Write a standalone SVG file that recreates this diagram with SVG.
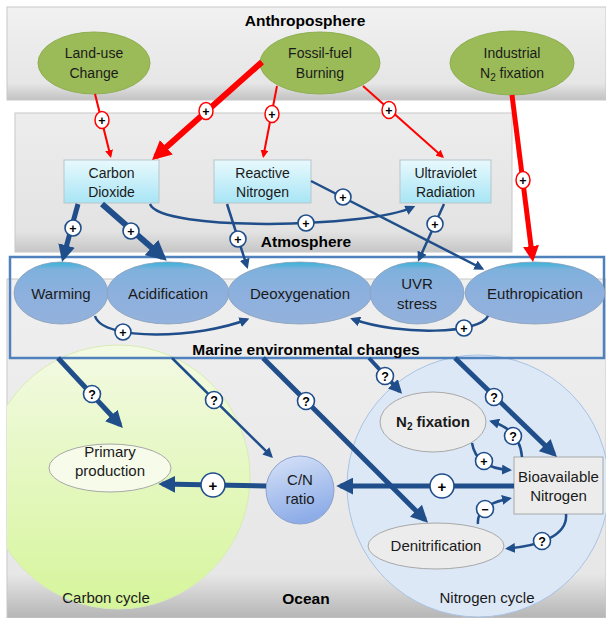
<svg xmlns="http://www.w3.org/2000/svg" width="606" height="618" viewBox="0 0 606 618">
<defs>
<style>
text{font-family:"Liberation Sans",Arial,sans-serif;fill:#1a1a1a;text-anchor:middle}
.t14{font-size:14px}
.t15{font-size:15px}
.ttl{font-size:15.5px;font-weight:bold;fill:#000}
.red{stroke:#ff0000;fill:none}
.blue{stroke:#1f4e8a;fill:none}
.rc{fill:#fff;stroke:#ff0000;stroke-width:1.5}
.bc{fill:#fff;stroke:#1f4e8a;stroke-width:1.6}
.sym{font-size:12.5px;font-weight:bold;fill:#000}
.symL{font-size:15px;font-weight:bold;fill:#000}
.anth{fill:#9bbb59;stroke:#8fae52;stroke-width:1}
.box{fill:url(#boxG);stroke:#b7c6cb;stroke-width:1}
.mar{fill:url(#marG);stroke:#8d9fb8;stroke-width:0.8}
.gry{fill:#ececec;stroke:#a8a8a8;stroke-width:1}
</style>
<linearGradient id="anG" x1="0" y1="0" x2="0" y2="1">
<stop offset="0" stop-color="#f1f1f1"/><stop offset="0.82" stop-color="#e6e6e6"/><stop offset="1" stop-color="#c2c2c2"/>
</linearGradient>
<linearGradient id="atG" x1="0" y1="0" x2="0" y2="1">
<stop offset="0" stop-color="#ededed"/><stop offset="0.85" stop-color="#e3e3e3"/><stop offset="1" stop-color="#c6c6c6"/>
</linearGradient>
<linearGradient id="ocG" x1="0" y1="0" x2="0" y2="1">
<stop offset="0" stop-color="#efefef"/><stop offset="0.87" stop-color="#e7e7e7"/><stop offset="1" stop-color="#b5b5b5"/>
</linearGradient>
<linearGradient id="boxG" x1="0" y1="0" x2="0" y2="1">
<stop offset="0" stop-color="#e8f9fd"/><stop offset="1" stop-color="#a8e5f5"/>
</linearGradient>
<linearGradient id="marG" x1="0" y1="0" x2="0" y2="1">
<stop offset="0" stop-color="#35b3d9"/><stop offset="0.12" stop-color="#7fb1dd"/><stop offset="0.5" stop-color="#8db0de"/><stop offset="1" stop-color="#93b2dc"/>
</linearGradient>
<linearGradient id="grG" x1="0" y1="0" x2="0" y2="1">
<stop offset="0" stop-color="#f3fae4"/><stop offset="1" stop-color="#d6f59b"/>
</linearGradient>
<linearGradient id="cnG" x1="0" y1="0" x2="0.3" y2="1">
<stop offset="0" stop-color="#d8e3f8"/><stop offset="1" stop-color="#8eade8"/>
</linearGradient>
<clipPath id="ocClip"><rect x="7" y="279" width="599" height="339"/></clipPath>
<marker id="rs" viewBox="0 0 4 4" refX="3" refY="2" markerWidth="4" markerHeight="4" orient="auto" markerUnits="strokeWidth"><path d="M0,0 L4,2 L0,4 z" fill="#ff0000"/></marker>
<marker id="rb" viewBox="0 0 4 4" refX="3" refY="2" markerWidth="3.2" markerHeight="3.2" orient="auto" markerUnits="strokeWidth"><path d="M0,0 L4,2 L0,4 z" fill="#ff0000"/></marker>
<marker id="bs" viewBox="0 0 4 4" refX="3" refY="2" markerWidth="4" markerHeight="4" orient="auto" markerUnits="strokeWidth"><path d="M0,0 L4,2 L0,4 z" fill="#1f4e8a"/></marker>
<marker id="bb" viewBox="0 0 4 4" refX="3" refY="2" markerWidth="3.4" markerHeight="3.4" orient="auto" markerUnits="strokeWidth"><path d="M0,0 L4,2 L0,4 z" fill="#1f4e8a"/></marker>
</defs>

<g id="backgrounds">
<rect x="7" y="7" width="599" height="93" fill="url(#anG)" stroke="#c8c8c8" stroke-width="1"/>
<rect x="15" y="113" width="497" height="139" fill="url(#atG)" stroke="#c8c8c8" stroke-width="1"/>
<rect x="7" y="279" width="599" height="339" fill="url(#ocG)" stroke="#c8c8c8" stroke-width="1"/>
<g clip-path="url(#ocClip)">
<circle id="carbon-cycle" cx="118" cy="477" r="132" fill="url(#grG)" stroke="#d7ecb4" stroke-width="1"/>
<circle id="nitrogen-cycle" cx="478" cy="486" r="131" fill="#dde8f7" stroke="#a9c3e4" stroke-width="1"/>
</g>
<rect x="10" y="257" width="594" height="101" fill="none" stroke="#4f81bd" stroke-width="2.5"/>
</g>

<g id="titles">
<text class="ttl" x="305" y="25.5">Anthroposphere</text>
<text class="ttl" x="306" y="246.5">Atmosphere</text>
<text class="ttl" x="306" y="354.5">Marine environmental changes</text>
<text class="ttl" x="306" y="603.5">Ocean</text>
<text class="t15" x="106" y="603">Carbon cycle</text>
<text class="t15" x="487" y="603">Nitrogen cycle</text>
</g>

<g id="land-use"><ellipse class="anth" cx="94" cy="63" rx="56" ry="31"/><text class="t14" x="94" y="58">Land-use</text><text class="t14" x="94" y="78">Change</text></g>
<g id="fossil-fuel"><ellipse class="anth" cx="320" cy="63" rx="60" ry="31"/><text class="t14" x="320" y="58">Fossil-fuel</text><text class="t14" x="320" y="78">Burning</text></g>
<g id="industrial"><ellipse class="anth" cx="512" cy="63" rx="62" ry="32"/><text class="t14" x="512" y="58">Industrial</text><text class="t14" x="512" y="78">N<tspan font-size="10" dy="3">2</tspan><tspan dy="-3"> fixation</tspan></text></g>

<g id="carbon-dioxide"><rect class="box" x="64" y="160" width="95" height="43"/><text class="t14" x="111.5" y="178">Carbon</text><text class="t14" x="111.5" y="197">Dioxide</text></g>
<g id="reactive-nitrogen"><rect class="box" x="214" y="160" width="97" height="43"/><text class="t14" x="262.5" y="178">Reactive</text><text class="t14" x="262.5" y="197">Nitrogen</text></g>
<g id="ultraviolet"><rect class="box" x="400" y="160" width="91" height="43"/><text class="t14" x="445.5" y="178">Ultraviolet</text><text class="t14" x="445.5" y="197">Radiation</text></g>

<g id="warming"><ellipse class="mar" cx="61" cy="293" rx="47" ry="31"/><text class="t15" x="61" y="298.5">Warming</text></g>
<g id="acidification"><ellipse class="mar" cx="168" cy="293" rx="61" ry="31"/><text class="t15" x="168" y="298.5">Acidification</text></g>
<g id="deoxygenation"><ellipse class="mar" cx="300" cy="293" rx="72" ry="31"/><text class="t15" x="300" y="298.5">Deoxygenation</text></g>
<g id="uvr-stress"><ellipse class="mar" cx="417" cy="293" rx="47" ry="31"/><text class="t15" x="417" y="288.5">UVR</text><text class="t15" x="417" y="308.5">stress</text></g>
<g id="euthropication"><ellipse class="mar" cx="535" cy="293" rx="70" ry="31"/><text class="t15" x="535" y="298.5">Euthropication</text></g>

<g id="primary-production"><ellipse cx="110" cy="468" rx="61" ry="24" fill="#f6fbea" stroke="#a8a8a8" stroke-width="1"/><text class="t15" x="110" y="457">Primary</text><text class="t15" x="110" y="476">production</text></g>
<g id="cn-ratio"><circle cx="300" cy="490" r="34" fill="url(#cnG)" stroke="#8ea3cb" stroke-width="1"/><text class="t15" x="300" y="485">C/N</text><text class="t15" x="300" y="504">ratio</text></g>
<g id="n2-fixation"><ellipse class="gry" cx="433" cy="422" rx="53" ry="30"/><text class="t15" x="433" y="427" font-weight="bold" fill="#000">N<tspan font-size="10" dy="3">2</tspan><tspan dy="-3"> fixation</tspan></text></g>
<g id="bioavailable-nitrogen"><rect class="gry" x="514" y="457" width="89" height="57"/><text class="t15" x="558.5" y="482">Bioavailable</text><text class="t15" x="558.5" y="501">Nitrogen</text></g>
<g id="denitrification"><ellipse class="gry" cx="436" cy="546" rx="68" ry="23"/><text class="t15" x="436" y="551">Denitrification</text></g>

<g id="connectors">
<path class="red" stroke-width="2" marker-end="url(#rs)" d="M95,94 L110.5,156"/>
<path class="red" stroke-width="6" marker-end="url(#rb)" d="M262,62 L155.6,156.8"/>
<path class="red" stroke-width="2" marker-end="url(#rs)" d="M277,86 L263.4,156"/>
<path class="red" stroke-width="2" marker-end="url(#rs)" d="M363,86 L442.5,156.7"/>
<path class="red" stroke-width="5" marker-end="url(#rb)" d="M512,95 L532.5,258"/>

<path class="blue" stroke-width="5" marker-end="url(#bb)" d="M78,204 L63.2,257.8"/>
<path class="blue" stroke-width="6" marker-end="url(#bb)" d="M102,204 L163,257.5"/>
<path class="blue" stroke-width="2.5" marker-end="url(#bs)" d="M150,204 C160,232 370,228 413,207"/>
<path class="blue" stroke-width="2.5" marker-end="url(#bs)" d="M227,204 L247,266.5"/>
<path class="blue" stroke-width="2.5" marker-end="url(#bs)" d="M311,181 L482,268.5"/>
<path class="blue" stroke-width="2.5" marker-end="url(#bs)" d="M444,204 L419,259.5"/>

<path class="blue" stroke-width="2.5" marker-end="url(#bs)" d="M95,316 C103,342 200,338 247,319.5"/>
<path class="blue" stroke-width="2.5" marker-end="url(#bs)" d="M488,316 C480,334 400,336 352.5,319"/>

<path class="blue" stroke-width="5" marker-end="url(#bb)" d="M58,358 L120,424.8"/>
<path class="blue" stroke-width="2.5" marker-end="url(#bs)" d="M172,358 L271.2,456.2"/>
<path class="blue" stroke-width="5" marker-end="url(#bb)" d="M263,358 L425,519.8"/>
<path class="blue" stroke-width="4" marker-end="url(#bb)" d="M369,358 L399.8,391.3"/>
<path class="blue" stroke-width="5" marker-end="url(#bb)" d="M455,358 L553.9,454"/>

<path class="blue" stroke-width="5" marker-end="url(#bb)" d="M514,486 L340.5,486"/>
<path class="blue" stroke-width="5" marker-end="url(#bb)" d="M266,486 L162.5,484"/>

<path class="blue" stroke-width="2.5" marker-end="url(#bs)" d="M472,443 Q476,468 509.5,470"/>
<path class="blue" stroke-width="2.5" marker-end="url(#bs)" d="M522,457 Q520,430 491.5,421.5"/>
<path class="blue" stroke-width="2.5" marker-end="url(#bs)" d="M478,524 Q476,505 509.5,498.5"/>
<path class="blue" stroke-width="2.5" marker-end="url(#bs)" d="M566,514 C568,535 540,546 507.5,548.5"/>
</g>

<g id="signs">
<ellipse class="rc" cx="102" cy="120" rx="7" ry="8.5"/><text class="sym" x="102" y="124.5">+</text>
<ellipse class="rc" cx="206" cy="111" rx="7" ry="8.5"/><text class="sym" x="206" y="115.5">+</text>
<ellipse class="rc" cx="272" cy="114" rx="7" ry="8.5"/><text class="sym" x="272" y="118.5">+</text>
<ellipse class="rc" cx="389" cy="110" rx="7" ry="8.5"/><text class="sym" x="389" y="114.5">+</text>
<ellipse class="rc" cx="523" cy="180" rx="7" ry="8.5"/><text class="sym" x="523" y="184.5">+</text>

<circle class="bc" cx="73" cy="228" r="8"/><text class="sym" x="73" y="232.5">+</text>
<circle class="bc" cx="131" cy="231" r="8"/><text class="sym" x="131" y="235.5">+</text>
<circle class="bc" cx="306" cy="223" r="8"/><text class="sym" x="306" y="227.5">+</text>
<circle class="bc" cx="238" cy="239" r="8"/><text class="sym" x="238" y="243.5">+</text>
<circle class="bc" cx="343" cy="197" r="8"/><text class="sym" x="343" y="201.5">+</text>
<circle class="bc" cx="435" cy="224" r="8"/><text class="sym" x="435" y="228.5">+</text>
<circle class="bc" cx="123" cy="332" r="8"/><text class="sym" x="123" y="336.5">+</text>
<circle class="bc" cx="464" cy="328" r="8"/><text class="sym" x="464" y="332.5">+</text>

<circle class="bc" cx="92" cy="394" r="8.5"/><text class="sym" x="92" y="398.5">?</text>
<circle class="bc" cx="214" cy="400" r="8.5"/><text class="sym" x="214" y="404.5">?</text>
<circle class="bc" cx="306" cy="401" r="8.5"/><text class="sym" x="306" y="405.5">?</text>
<circle class="bc" cx="385" cy="376" r="8.5"/><text class="sym" x="385" y="380.5">?</text>
<circle class="bc" cx="494" cy="397" r="8.5"/><text class="sym" x="494" y="401.5">?</text>
<circle class="bc" cx="513" cy="436" r="8.5"/><text class="sym" x="513" y="440.5">?</text>
<circle class="bc" cx="484" cy="461" r="8.5"/><text class="sym" x="484" y="465.5">+</text>
<circle class="bc" cx="485" cy="509" r="8.5"/><text class="sym" x="485" y="513.5">−</text>
<circle class="bc" cx="542" cy="541" r="8.5"/><text class="sym" x="542" y="545.5">?</text>

<circle class="bc" cx="442" cy="486" r="12"/><text class="symL" x="442" y="491.5">+</text>
<circle class="bc" cx="213" cy="485" r="12"/><text class="symL" x="213" y="490.5">+</text>
</g>
</svg>
